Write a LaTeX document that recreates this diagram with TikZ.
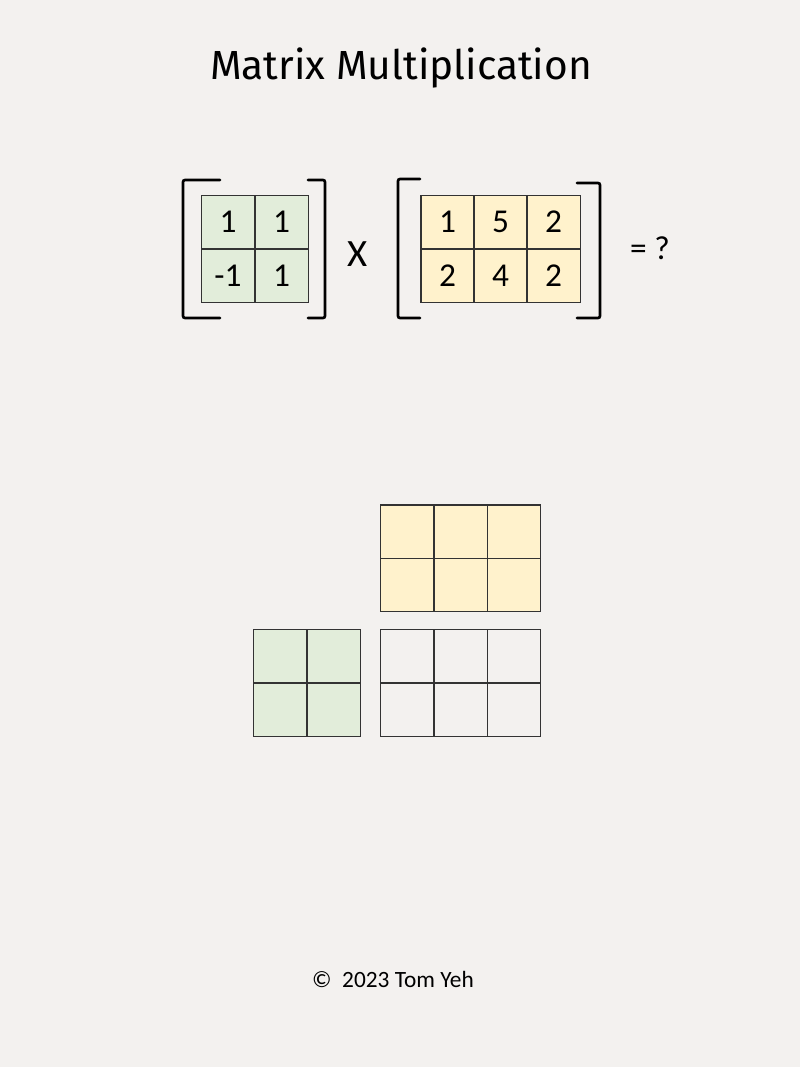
\documentclass[tikz,border=0pt]{standalone}
\usepackage{fontspec}
\setmainfont{Carlito}
\newfontfamily\titlefont{Fira Sans}
\definecolor{paper}{HTML}{F3F1EF}
\definecolor{greencell}{HTML}{E2EDDA}
\definecolor{yellowcell}{HTML}{FFF2CC}
\definecolor{gridline}{HTML}{333333}

\begin{document}
\begin{tikzpicture}[x=0.75pt, y=-0.75pt,
	cell/.style={draw=gridline, line width=1pt, minimum width=40pt, minimum height=40pt, inner sep=0pt, font=\fontsize{25}{30}\selectfont},
	gcell/.style={cell, fill=greencell},
	ycell/.style={cell, fill=yellowcell},
	bracket/.style={line width=2pt, line cap=round, rounded corners=1.5pt}]
	\fill[paper] (0,0) rectangle (800,1067);
	\useasboundingbox (0,0) rectangle (800,1067);
	\node (title) at (401,68) {\titlefont\fontsize{30.5}{34}\selectfont Matrix Multiplication};

	% first matrix
	\node[gcell] (a11) at (228,222) {1};
	\node[gcell] (a12) at (281.5,222) {1};
	\node[gcell] (a21) at (228,275.5) {-1};
	\node[gcell] (a22) at (281.5,275.5) {1};
	\draw[bracket] (220,180) -- (183,180) -- (183,318) -- (220,318);
	\draw[bracket] (308,180) -- (325,180) -- (325,318) -- (308,318);

	\node[font=\fontsize{29}{32}\selectfont] (times) at (358,254) {X};

	% second matrix
	\node[ycell] (b11) at (447.5,222) {1};
	\node[ycell] (b12) at (500.5,222) {5};
	\node[ycell] (b13) at (553.5,222) {2};
	\node[ycell] (b21) at (447.5,275.5) {2};
	\node[ycell] (b22) at (500.5,275.5) {4};
	\node[ycell] (b23) at (553.5,275.5) {2};
	\draw[bracket] (420,179) -- (398,179) -- (398,318) -- (420,318);
	\draw[bracket] (577,183) -- (600,183) -- (600,318) -- (577,318);

	\node[font=\fontsize{25}{30}\selectfont] (eq) at (650,248) {= ?};

	% empty grids below
	\node[ycell] (y11) at (407,531.5) {};
	\node[ycell] (y12) at (460.5,531.5) {};
	\node[ycell] (y13) at (514,531.5) {};
	\node[ycell] (y21) at (407,585) {};
	\node[ycell] (y22) at (460.5,585) {};
	\node[ycell] (y23) at (514,585) {};

	\node[gcell] (g11) at (280,656) {};
	\node[gcell] (g12) at (333.5,656) {};
	\node[gcell] (g21) at (280,709.5) {};
	\node[gcell] (g22) at (333.5,709.5) {};

	\node[cell] (c11) at (407,656) {};
	\node[cell] (c12) at (460.5,656) {};
	\node[cell] (c13) at (514,656) {};
	\node[cell] (c21) at (407,709.5) {};
	\node[cell] (c22) at (460.5,709.5) {};
	\node[cell] (c23) at (514,709.5) {};

	\node[font=\fontsize{17.5}{21}\selectfont] (credit) at (393,979) {©\ \ 2023 Tom Yeh};
\end{tikzpicture}
\end{document}
